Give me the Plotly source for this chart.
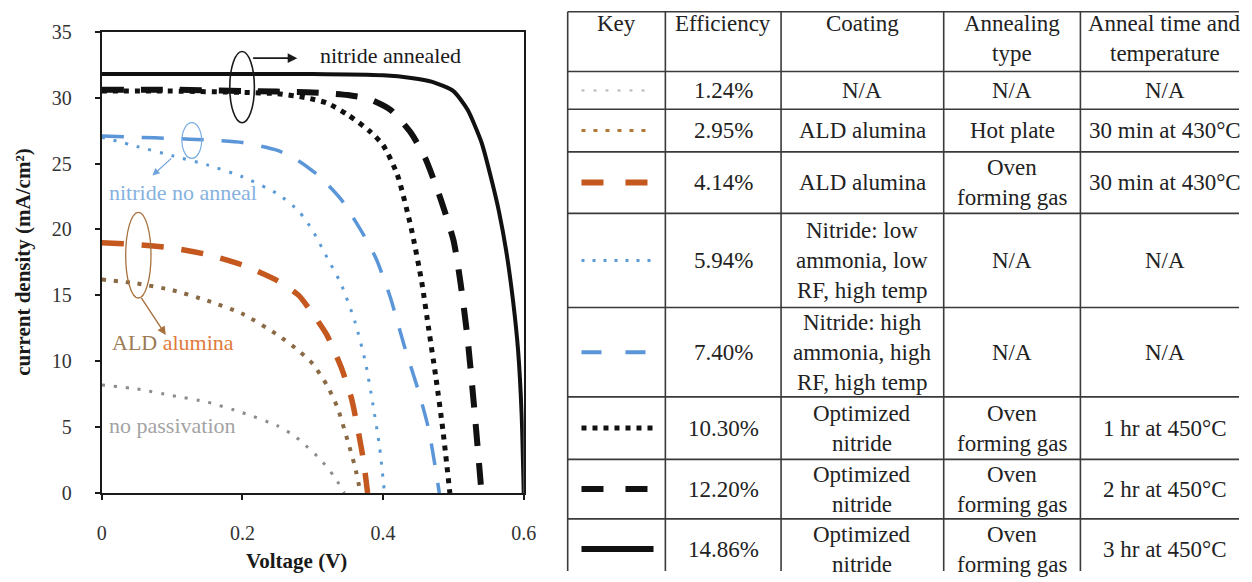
import plotly.graph_objects as go

# ---------------- J-V curves (voltage in V, current density in mA/cm2) ----------------
v_no_pass = [0.0, 0.05, 0.10, 0.15, 0.20, 0.25, 0.275, 0.29, 0.31, 0.33, 0.345]
j_no_pass = [8.2, 7.9, 7.4, 6.9, 6.1, 5.1, 4.3, 3.6, 2.6, 1.3, 0.0]

v_ald_hot = [0.0, 0.05, 0.10, 0.15, 0.20, 0.25, 0.28, 0.30, 0.32, 0.335, 0.35, 0.36, 0.368]
j_ald_hot = [16.2, 15.9, 15.4, 14.6, 13.6, 12.0, 10.8, 9.8, 8.2, 6.5, 3.9, 2.0, 0.0]

v_ald_oven = [0.0, 0.05, 0.10, 0.15, 0.20, 0.25, 0.28, 0.30, 0.32, 0.34, 0.355, 0.365, 0.372, 0.378]
j_ald_oven = [19.0, 18.85, 18.6, 18.1, 17.3, 16.1, 15.0, 13.6, 12.0, 9.6, 7.2, 4.6, 2.5, 0.0]

v_nit_low = [0.0, 0.05, 0.10, 0.15, 0.20, 0.25, 0.28, 0.30, 0.32, 0.34, 0.36, 0.375, 0.385, 0.395, 0.402]
j_nit_low = [27.0, 26.3, 25.6, 24.9, 24.0, 22.7, 21.4, 19.9, 17.9, 15.9, 13.0, 9.9, 6.9, 3.5, 0.0]

v_nit_high = [0.0, 0.05, 0.10, 0.15, 0.20, 0.25, 0.28, 0.31, 0.34, 0.37, 0.39, 0.41, 0.43, 0.45, 0.465, 0.48]
j_nit_high = [27.1, 27.0, 26.9, 26.8, 26.6, 26.0, 25.2, 24.0, 22.3, 19.8, 17.8, 14.9, 11.2, 7.8, 4.8, 0.0]

v_opt_1hr = [0.0, 0.10, 0.20, 0.25, 0.29, 0.32, 0.35, 0.38, 0.40, 0.42, 0.44, 0.455, 0.465, 0.475, 0.485, 0.495]
j_opt_1hr = [30.5, 30.5, 30.4, 30.3, 30.0, 29.6, 28.7, 27.5, 26.4, 24.2, 20.1, 16.0, 12.4, 8.8, 4.8, 0.0]

v_opt_2hr = [0.0, 0.10, 0.20, 0.30, 0.35, 0.38, 0.41, 0.44, 0.46, 0.48, 0.50, 0.51, 0.52, 0.53, 0.54]
j_opt_2hr = [30.6, 30.6, 30.5, 30.4, 30.2, 29.9, 29.1, 27.3, 25.4, 22.6, 19.2, 16.0, 11.8, 6.2, 0.0]

v_opt_3hr = [0.0, 0.10, 0.20, 0.30, 0.40, 0.44, 0.47, 0.50, 0.52, 0.54, 0.555, 0.565, 0.575, 0.585, 0.592, 0.597, 0.60]
j_opt_3hr = [31.8, 31.8, 31.8, 31.8, 31.7, 31.5, 31.2, 30.5, 29.1, 26.6, 23.6, 21.3, 18.4, 14.5, 10.8, 6.0, 0.0]

x_ticks = [0, 0.2, 0.4, 0.6]
x_tick_text = ["0", "0.2", "0.4", "0.6"]
y_ticks = [0, 5, 10, 15, 20, 25, 30, 35]

# ---------------- table contents ----------------
header_cells = [["Key"], ["Efficiency"], ["Coating"], ["Annealing", "type"], ["Anneal time and", "temperature"]]
efficiency = ["1.24%", "2.95%", "4.14%", "5.94%", "7.40%", "10.30%", "12.20%", "14.86%"]
coating = [["N/A"], ["ALD alumina"], ["ALD alumina"],
           ["Nitride: low", "ammonia, low", "RF, high temp"],
           ["Nitride: high", "ammonia, high", "RF, high temp"],
           ["Optimized", "nitride"], ["Optimized", "nitride"], ["Optimized", "nitride"]]
anneal_type = [["N/A"], ["Hot plate"], ["Oven", "forming gas"], ["N/A"], ["N/A"],
               ["Oven", "forming gas"], ["Oven", "forming gas"], ["Oven", "forming gas"]]
anneal_time = ["N/A", "30 min at 430°C", "30 min at 430°C", "N/A", "N/A",
               "1 hr at 450°C", "2 hr at 450°C", "3 hr at 450°C"]

# ---------------- styles ----------------
SERIF = "Liberation Serif"
W, H = 1252, 582

series = [
    (v_no_pass, j_no_pass, dict(color="#8c8c8c", width=3, dash="3px,9px")),
    (v_ald_hot, j_ald_hot, dict(color="#8a6a45", width=4, dash="4px,8px")),
    (v_ald_oven, j_ald_oven, dict(color="#c4581e", width=5.5, dash="22px,18px")),
    (v_nit_low, j_nit_low, dict(color="#5b9bd5", width=3, dash="3px,9px")),
    (v_nit_high, j_nit_high, dict(color="#5a96d8", width=3.5, dash="22px,18px")),
    (v_opt_1hr, j_opt_1hr, dict(color="#111111", width=5, dash="5px,6px")),
    (v_opt_2hr, j_opt_2hr, dict(color="#111111", width=6, dash="22px,17px")),
    (v_opt_3hr, j_opt_3hr, dict(color="#111111", width=4, dash="solid")),
]
key_styles = [
    dict(color="#b8b8b8", width=2, dash="3px,9px"),
    dict(color="#b07a35", width=3, dash="4px,8px"),
    dict(color="#c4581e", width=6, dash="22px,22px"),
    dict(color="#5b9bd5", width=3, dash="3px,8px"),
    dict(color="#5a96d8", width=4, dash="20px,24px"),
    dict(color="#111111", width=5, dash="5px,6px"),
    dict(color="#111111", width=6, dash="22px,22px"),
    dict(color="#111111", width=6, dash="solid"),
]

fig = go.Figure()

for v, j, style in series:
    fig.add_trace(go.Scatter(x=v, y=j, mode="lines", line=dict(shape="spline", smoothing=0.6, **style),
                             showlegend=False, hoverinfo="skip", xaxis="x", yaxis="y"))

# ---------------- table geometry (table axes are in figure pixels) ----------------
col_edges = [570.9, 670.0, 787.4, 952.4, 1091.1, 1262.0]
row_edges = [0.8, 62.9, 102.1, 146.4, 210.3, 308.2, 401.0, 466.0, 527.8, 590.7]
LINE_GAP = 31
HEADER_FIRST_LINE = 12.6

shapes = []
for xe in col_edges:
    shapes.append(dict(type="line", xref="x2", yref="y2", x0=xe, x1=xe, y0=row_edges[0], y1=row_edges[-1],
                       line=dict(color="#3a3a3a", width=1.6)))
for ye in row_edges:
    shapes.append(dict(type="line", xref="x2", yref="y2", x0=col_edges[0], x1=col_edges[-1], y0=ye, y1=ye,
                       line=dict(color="#3a3a3a", width=1.6)))

annotations = []


def cell_text(lines, col, row, top=False):
    xc = (col_edges[col] + col_edges[col + 1]) / 2
    if top:
        y0 = row_edges[row] + HEADER_FIRST_LINE
    else:
        yc = (row_edges[row] + row_edges[row + 1]) / 2
        y0 = yc - (len(lines) - 1) * LINE_GAP / 2
    for i, t in enumerate(lines):
        annotations.append(dict(x=xc, y=y0 + i * LINE_GAP, xref="x2", yref="y2", text=t, showarrow=False,
                                xanchor="center", yanchor="middle",
                                font=dict(family=SERIF, size=23, color="#222222")))


for c, lines in enumerate(header_cells):
    cell_text(lines, c, 0, top=True)

for r in range(len(efficiency)):
    cell_text([efficiency[r]], 1, r + 1)
    cell_text(coating[r], 2, r + 1)
    cell_text(anneal_type[r], 3, r + 1)
    cell_text([anneal_time[r]], 4, r + 1)
    yc = (row_edges[r + 1] + row_edges[r + 2]) / 2
    fig.add_trace(go.Scatter(x=[col_edges[0] + 14, col_edges[1] - 12], y=[yc, yc], mode="lines",
                             line=key_styles[r], showlegend=False, hoverinfo="skip",
                             xaxis="x2", yaxis="y2"))

# ---------------- chart labels, loops and arrows ----------------
label_font = dict(family=SERIF, size=22)
annotations += [
    dict(x=0.411, y=33.2, xref="x", yref="y", text="nitride annealed", showarrow=False,
         xanchor="center", yanchor="middle", font=dict(color="#1a1a1a", **label_font)),
    dict(x=0.008, y=22.8, xref="x", yref="y", text="nitride no anneal", showarrow=False,
         xanchor="left", yanchor="middle", font=dict(color="#86b2e0", **label_font)),
    dict(x=0.012, y=11.4, xref="x", yref="y", xanchor="left", yanchor="middle", showarrow=False,
         text="<span style='color:#9b7b55'>ALD</span> <span style='color:#e07a3c'>alumina</span>",
         font=dict(color="#b07040", **label_font)),
    dict(x=0.008, y=5.1, xref="x", yref="y", text="no passivation", showarrow=False,
         xanchor="left", yanchor="middle", font=dict(color="#a3a3a3", **label_font)),
    # arrows from the loops toward the labels
    dict(x=0.278, y=33.0, ax=0.213, ay=33.0, xref="x", yref="y", axref="x", ayref="y", text="",
         showarrow=True, arrowhead=2, arrowsize=1.2, arrowwidth=1.6, arrowcolor="#1a1a1a"),
    dict(x=0.072, y=24.1, ax=0.101, ay=25.5, xref="x", yref="y", axref="x", ayref="y", text="",
         showarrow=True, arrowhead=2, arrowsize=1.2, arrowwidth=1.2, arrowcolor="#6fa3dc"),
    dict(x=0.091, y=12.0, ax=0.055, ay=14.9, xref="x", yref="y", axref="x", ayref="y", text="",
         showarrow=True, arrowhead=2, arrowsize=1.2, arrowwidth=1.4, arrowcolor="#a8703c"),
    # axis titles
    dict(x=0.2360, y=0.0187, xref="paper", yref="paper", text="<b>Voltage (V)</b>", showarrow=False,
         xanchor="center", yanchor="middle", font=dict(family=SERIF, size=21, color="#1a1a1a")),
    dict(x=0.0145, y=0.5519, xref="paper", yref="paper", text="<b>current density (mA/cm²)</b>",
         showarrow=False, textangle=-90, xanchor="center", yanchor="middle",
         font=dict(family=SERIF, size=21, color="#1a1a1a")),
]

shapes += [
    dict(type="circle", xref="x", yref="y", x0=0.182, x1=0.217, y0=28.1, y1=33.5,
         line=dict(color="#1a1a1a", width=1.6)),
    dict(type="circle", xref="x", yref="y", x0=0.114, x1=0.142, y0=25.4, y1=28.1,
         line=dict(color="#7aaee2", width=1.2)),
    dict(type="circle", xref="x", yref="y", x0=0.034, x1=0.070, y0=14.8, y1=21.3,
         line=dict(color="#a8703c", width=1.3)),
]

axis_common = dict(showline=True, linecolor="#1a1a1a", linewidth=2, mirror=True, ticks="outside",
                   ticklen=5, tickwidth=1.5, tickcolor="#1a1a1a", showgrid=False, zeroline=False,
                   tickfont=dict(family=SERIF, size=20, color="#333333"))

fig.update_layout(
    width=W, height=H,
    margin=dict(l=0, r=0, t=0, b=0),
    paper_bgcolor="white", plot_bgcolor="white",
    xaxis=dict(domain=[0.07843, 0.42037], range=[0, 0.6], tickvals=x_ticks, ticktext=x_tick_text,
               ticklabelstandoff=16, anchor="y", **axis_common),
    yaxis=dict(domain=[0.13918, 0.96289], range=[0, 35], tickvals=y_ticks, ticklabelstandoff=19,
               anchor="x", **axis_common),
    xaxis2=dict(domain=[560 / W, 1], range=[560, W], visible=False, anchor="y2", fixedrange=True),
    yaxis2=dict(domain=[0, 1], range=[H, 0], visible=False, anchor="x2", fixedrange=True),
    shapes=shapes,
    annotations=annotations,
)

fig.write_html("out.html")
